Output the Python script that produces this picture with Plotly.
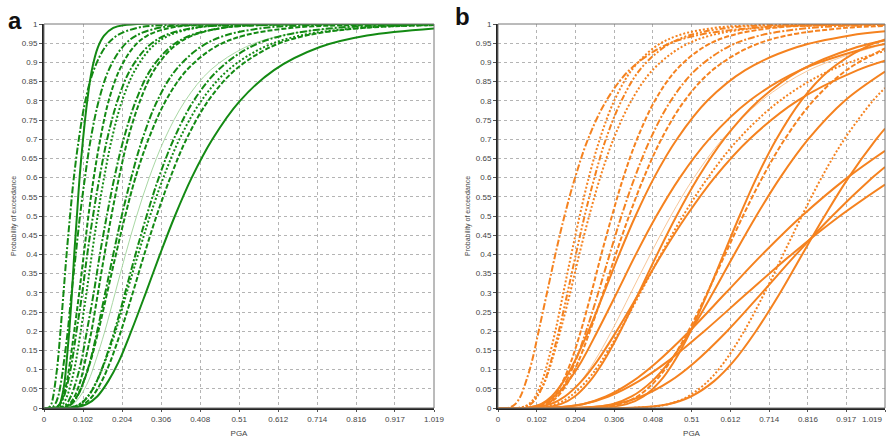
import plotly.graph_objects as go

# Shared probability levels at which each curve's PGA was read (first point is the origin)
prob_levels = [0, 0.001, 0.01, 0.03, 0.07, 0.12, 0.2, 0.3, 0.4, 0.5, 0.6, 0.7, 0.8, 0.88, 0.94, 0.97, 0.99, 0.997]
x_end = 1.019

# Panel a: PGA (thousandths of g) at each probability level, and probability at PGA = 1.019
pga_a = [
    [52, 76, 94, 116, 134, 159, 186, 213, 242, 275, 315, 369, 435, 527, 620, 774, 956],
    [12, 19, 24, 30, 36, 43, 51, 59, 68, 78, 91, 108, 130, 160, 191, 244, 308],
    [32, 41, 47, 54, 59, 66, 73, 79, 86, 93, 102, 113, 125, 141, 157, 181, 207],
    [20, 29, 37, 45, 52, 62, 72, 83, 94, 107, 122, 143, 169, 205, 241, 301, 371],
    [29, 41, 50, 60, 68, 79, 92, 104, 116, 130, 147, 169, 197, 234, 270, 330, 399],
    [29, 42, 52, 63, 73, 85, 100, 113, 128, 145, 165, 192, 225, 270, 316, 391, 479],
    [35, 49, 60, 72, 83, 96, 111, 125, 140, 157, 177, 204, 238, 282, 326, 399, 482],
    [41, 58, 70, 84, 97, 112, 130, 146, 164, 184, 208, 240, 278, 330, 382, 467, 565],
    [48, 66, 80, 95, 107, 124, 141, 158, 176, 196, 219, 251, 288, 338, 388, 468, 558],
    [51, 71, 87, 104, 120, 139, 160, 181, 203, 228, 257, 296, 344, 409, 473, 578, 699],
    [48, 69, 86, 104, 121, 142, 165, 188, 212, 239, 273, 318, 373, 447, 523, 648, 793],
    [67, 94, 115, 138, 158, 184, 212, 239, 268, 300, 339, 391, 455, 539, 625, 763, 923],
    [65, 93, 114, 138, 159, 187, 216, 246, 277, 312, 354, 411, 481, 575, 670, 827, 1008],
    [73, 103, 126, 151, 173, 201, 232, 262, 294, 330, 372, 429, 499, 592, 685, 838, 1012],
    [78, 112, 139, 168, 195, 228, 266, 303, 342, 386, 440, 512, 601, 721, 844],
]
end_a = [0.998, 1.0, 1.0, 1.0, 1.0, 1.0, 1.0, 1.0, 1.0, 0.9998, 0.9995, 0.9985, 0.9972, 0.9971, 0.9885]
style_a = ['thin', 'dashdot', 'solid', 'dashdot', 'dash', 'dashdot', 'dot', 'dashdot', 'dash',
           'dashdot', 'dash', 'dashdot', 'dot', 'dash', 'solid']

# Panel b
pga_b = [
    [97, 142, 178, 218, 253, 299, 350, 401, 455, 516, 591, 693, 819, 990],
    [29, 45, 59, 74, 89, 107, 129, 151, 175, 203, 237, 285, 346, 431, 521, 675, 861],
    [59, 81, 98, 116, 131, 151, 172, 193, 215, 239, 268, 306, 352, 413, 474, 571, 682],
    [62, 86, 103, 123, 139, 160, 183, 205, 228, 254, 284, 325, 373, 438, 502, 606, 723],
    [60, 84, 103, 124, 141, 164, 190, 214, 240, 269, 304, 351, 407, 483, 559, 684, 826],
    [93, 124, 147, 171, 192, 218, 246, 272, 300, 330, 366, 413, 469, 542, 613, 726, 852],
    [94, 128, 153, 180, 203, 232, 264, 294, 325, 360, 401, 455, 520, 605, 690, 824, 975],
    [94, 130, 157, 186, 211, 242, 277, 310, 345, 384, 430, 491, 565, 663, 760, 917],
    [77, 113, 141, 173, 201, 238, 279, 319, 362, 411, 471, 551, 651, 788, 927],
    [76, 116, 148, 185, 219, 262, 313, 363, 417, 479, 556, 662, 796, 981],
    [117, 165, 202, 242, 277, 322, 371, 419, 470, 527, 595, 686, 797, 946],
    [104, 152, 190, 233, 271, 320, 375, 429, 487, 553, 633, 742, 876],
    [91, 138, 176, 220, 260, 312, 372, 431, 496, 570, 662, 788, 947],
    [276, 339, 383, 427, 463, 507, 552, 594, 636, 681, 733, 798, 873, 968],
    [255, 321, 367, 414, 453, 501, 551, 598, 645, 696, 755, 830, 918],
    [231, 301, 352, 406, 451, 507, 566, 622, 680, 743, 817, 913],
    [369, 447, 500, 553, 596, 648, 702, 751, 800, 852, 912, 987],
    [146, 223, 284, 355, 419, 504, 600, 696, 800, 920],
    [362, 448, 508, 569, 619, 679, 743, 801, 860, 923, 996],
    [219, 309, 377, 453, 519, 603, 695, 785, 880, 986],
    [141, 223, 291, 371, 445, 543, 657, 773, 900],
]
end_b = [0.9466, 0.9988, 0.9999, 0.9998, 0.9993, 0.9994, 0.9979, 0.995, 0.9808, 0.9479, 0.9573,
         0.9301, 0.9047, 0.9596, 0.9363, 0.876, 0.8334, 0.67, 0.7277, 0.6278, 0.582]
style_b = ['thin', 'dashdot', 'dot', 'dashdotdot', 'dot', 'dash', 'dashdot', 'dash', 'solid', 'solid',
           'solid', 'dot', 'solid', 'solid', 'dash', 'solid', 'dot', 'solid', 'solid', 'solid', 'solid']

xt = [0, 0.102, 0.204, 0.306, 0.408, 0.51, 0.612, 0.714, 0.816, 0.917, 1.019]
xtt = ['0', '0.102', '0.204', '0.306', '0.408', '0.51', '0.612', '0.714', '0.816', '0.917', '1.019']
yt = [i * 0.05 for i in range(21)]
ytt = ['0', '0.05', '0.1', '0.15', '0.2', '0.25', '0.3', '0.35', '0.4', '0.45', '0.5', '0.55',
       '0.6', '0.65', '0.7', '0.75', '0.8', '0.85', '0.9', '0.95', '1']

dashes = {'dashdot': '7px,2px,2px,2px', 'dash': '5px,2px', 'dot': '2px,2px',
          'dashdotdot': '6px,2px,2px,2px,2px,2px', 'solid': 'solid', 'thin': 'solid'}

fig = go.Figure()
for pgas, ends, styles, xa, ya, col, light in [
        (pga_a, end_a, style_a, 'x', 'y', '#138a13', '#a9d8a4'),
        (pga_b, end_b, style_b, 'x2', 'y2', '#f5821f', '#f8c79a')]:
    for g, e, s in zip(pgas, ends, styles):
        xs = [0.0] + [v / 1000 for v in g] + [x_end]
        ps = prob_levels[:len(g) + 1] + [e]
        fig.add_trace(go.Scatter(x=xs, y=ps, xaxis=xa, yaxis=ya, mode='lines', line_shape='spline',
                                 line=dict(color=light if s == 'thin' else col,
                                           width=1 if s == 'thin' else 2,
                                           dash=dashes[s]), showlegend=False, hoverinfo='skip'))

fontfam = 'Liberation Sans, Arial'
axfont = dict(family=fontfam, size=8, color='#444')
common_x = dict(range=[0, x_end], tickvals=xt, showgrid=True, gridcolor='#b4b4b4',
                griddash='dot', gridwidth=1, zeroline=False, showline=True, linecolor='#222', linewidth=2,
                tickfont=axfont, ticks='outside', ticklen=2, tickcolor='#555', automargin=False,
                title=dict(text='PGA', font=axfont, standoff=8))
common_y = dict(range=[0, 1.0], tickvals=yt, ticktext=ytt, showgrid=True, gridcolor='#b4b4b4',
                griddash='dot', gridwidth=1, zeroline=False, showline=True, linecolor='#222', linewidth=2,
                tickfont=axfont, ticks='outside', ticklen=3, tickcolor='#555', automargin=False,
                title=dict(text='Probability of exceedance',
                           font=dict(family=fontfam, size=7, color='#444'), standoff=4))

W, H = 893, 438
fig.update_layout(
    width=W, height=H, margin=dict(l=0, r=0, t=0, b=0), plot_bgcolor='white', paper_bgcolor='white',
    xaxis=dict(domain=[44 / W, 434 / W], anchor='y', ticktext=xtt, **common_x),
    yaxis=dict(domain=[1 - 408 / H, 1 - 24 / H], anchor='x', **common_y),
    xaxis2=dict(domain=[498 / W, 885 / W], anchor='y2', ticktext=xtt[:-1] + [''], **common_x),
    yaxis2=dict(domain=[1 - 408 / H, 1 - 24 / H], anchor='x2', **common_y),
)
# last tick label of panel b sits against the right edge of the picture
fig.add_annotation(text=xtt[-1], x=x_end, xref='x2', y=1 - 413 / H, yref='paper', xanchor='right',
                   yanchor='top', showarrow=False, font=axfont)
for xr, yr in [('x domain', 'y domain'), ('x2 domain', 'y2 domain')]:
    fig.add_shape(type='rect', xref=xr, yref=yr, x0=0, x1=1, y0=0, y1=1,
                  line=dict(color='#777', width=1), layer='above')
fig.add_annotation(text='<b>a</b>', x=6 / W, y=1 - 20 / H, xref='paper', yref='paper', xanchor='left',
                   yanchor='middle', showarrow=False, font=dict(family=fontfam, size=24, color='#111'))
fig.add_annotation(text='<b>b</b>', x=453 / W, y=1 - 17 / H, xref='paper', yref='paper', xanchor='left',
                   yanchor='middle', showarrow=False, font=dict(family=fontfam, size=24, color='#111'))
fig.write_html('out.html', config={'displayModeBar': False},
               post_script="document.body.style.margin='0';document.body.style.overflow='hidden';")
